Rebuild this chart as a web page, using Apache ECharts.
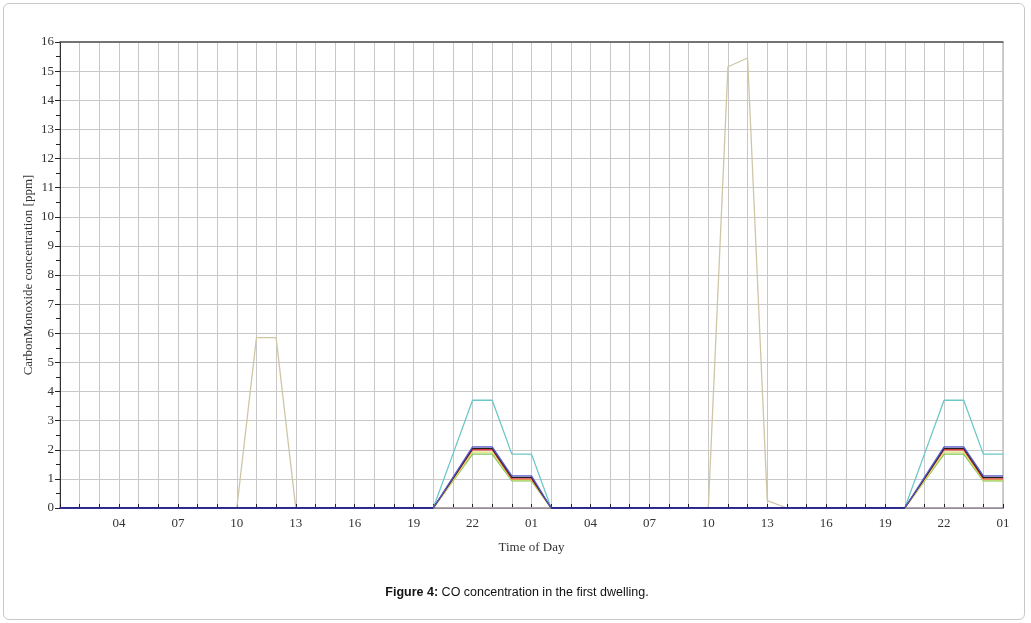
<!DOCTYPE html>
<html><head><meta charset="utf-8">
<script src="https://cdn.jsdelivr.net/npm/echarts@6/dist/echarts.min.js"></script>
<style>
html,body{margin:0;padding:0;background:#fff;}
#frame{position:absolute;left:3px;top:3px;width:1020px;height:615px;border:1px solid #c8c8c8;border-radius:6px;}
#c{position:absolute;left:0;top:0;width:1031px;height:623px;}
</style></head>
<body><div id="frame"></div><div id="c"></div>
<script>
// categories: hourly from 01h of day 1 to 01h of day 3
const categories = ["01","02","03","04","05","06","07","08","09","10","11","12","13","14","15","16","17","18","19","20","21","22","23","00",
"01","02","03","04","05","06","07","08","09","10","11","12","13","14","15","16","17","18","19","20","21","22","23","00","01"];
const seriesTan =    [0,0,0,0,0,0,0,0,0,0,5.85,5.85,0,0,0,0,0,0,0,0,0,0,0,0, 0,0,0,0,0,0,0,0,0,0,15.15,15.45,0.25,0,0,0,0,0,0,0,0,0,0,0,0];
const seriesCyan =   [0,0,0,0,0,0,0,0,0,0,0,0,0,0,0,0,0,0,0,0,1.85,3.7,3.7,1.85, 1.85,0,0,0,0,0,0,0,0,0,0,0,0,0,0,0,0,0,0,0,1.85,3.7,3.7,1.85,1.85];
const seriesPurple = [0,0,0,0,0,0,0,0,0,0,0,0,0,0,0,0,0,0,0,0,1.05,2.1,2.1,1.1, 1.1,0,0,0,0,0,0,0,0,0,0,0,0,0,0,0,0,0,0,0,1.05,2.1,2.1,1.1,1.1];
const seriesBlack =  [0,0,0,0,0,0,0,0,0,0,0,0,0,0,0,0,0,0,0,0,1.02,2.05,2.05,1.05, 1.05,0,0,0,0,0,0,0,0,0,0,0,0,0,0,0,0,0,0,0,1.02,2.05,2.05,1.05,1.05];
const seriesRed =    [0,0,0,0,0,0,0,0,0,0,0,0,0,0,0,0,0,0,0,0,1.0,2.0,2.0,1.0, 1.0,0,0,0,0,0,0,0,0,0,0,0,0,0,0,0,0,0,0,0,1.0,2.0,2.0,1.0,1.0];
const seriesYellow = [0,0,0,0,0,0,0,0,0,0,0,0,0,0,0,0,0,0,0,0,0.95,1.92,1.92,0.97, 0.97,0,0,0,0,0,0,0,0,0,0,0,0,0,0,0,0,0,0,0,0.95,1.92,1.92,0.97,0.97];
const seriesGreen =  [0,0,0,0,0,0,0,0,0,0,0,0,0,0,0,0,0,0,0,0,0.92,1.85,1.85,0.93, 0.93,0,0,0,0,0,0,0,0,0,0,0,0,0,0,0,0,0,0,0,0.92,1.85,1.85,0.93,0.93];
const seriesNavy =   [0,0,0,0,0,0,0,0,0,0,0,0,0,0,0,0,0,0,0,0,null,null,null,null, null,0,0,0,0,0,0,0,0,0,0,0,0,0,0,0,0,0,0,0,null,null,null,null,null];
const yTicks = [0,1,2,3,4,5,6,7,8,9,10,11,12,13,14,15,16];

const serif = "Liberation Serif";
function line(name, data, color, z, w){
  return {name, type:'line', data, symbol:'none', z, lineStyle:{color, width:w||1.3}, itemStyle:{color}, animation:false, connectNulls:false};
}
const chart = echarts.init(document.getElementById('c'), null, {renderer:'canvas'});
chart.setOption({
  animation:false,
  grid:{left:60, right:28, top:42, bottom:115, show:true, borderColor:'#9a9a9a', borderWidth:1},
  title:{text:'{b|Figure 4:} CO concentration in the first dwelling.', left:512, top:581, textAlign:'center',
    textStyle:{fontFamily:'Liberation Sans', fontSize:12.5, fontWeight:'normal', color:'#111', rich:{b:{fontFamily:'Liberation Sans', fontSize:12.5, fontWeight:'bold', color:'#111'}}}},
  xAxis:[{type:'category', data:categories, boundaryGap:false,
    name:'Time of Day', nameLocation:'middle', nameGap:33,
    nameTextStyle:{fontFamily:serif, fontSize:13, color:'#333'},
    axisLine:{lineStyle:{color:'#1a1a8c', width:1.5}},
    axisTick:{show:true, interval:0, inside:true, length:4, lineStyle:{color:'#222'}},
    axisLabel:{interval:(i)=> i>0 && i%3===0, fontFamily:serif, fontSize:13, color:'#333', margin:9},
    splitLine:{show:true, interval:0, lineStyle:{color:'#c8c8c8', width:1}}
  },{type:'category', data:categories, boundaryGap:false, position:'top',
    axisLine:{lineStyle:{color:'#555', width:1.5}}, axisTick:{show:false}, axisLabel:{show:false}, splitLine:{show:false}}],
  yAxis:{type:'value', min:yTicks[0], max:yTicks[yTicks.length-1], interval:1,
    name:'CarbonMonoxide concentration [ppm]', nameLocation:'middle', nameGap:25, nameMoveOverlap:false,
    nameTextStyle:{fontFamily:serif, fontSize:13, color:'#333'},
    axisLine:{show:true, lineStyle:{color:'#333'}},
    axisTick:{show:true, length:5, lineStyle:{color:'#222'}},
    minorTick:{show:true, splitNumber:2, length:4, lineStyle:{color:'#222'}},
    axisLabel:{fontFamily:serif, fontSize:13, color:'#333', margin:6},
    splitLine:{show:true, lineStyle:{color:'#c8c8c8', width:1}}
  },
  series:[
    line('tan', seriesTan, '#cfc6a6', 2),
    line('cyan', seriesCyan, '#6cc8c8', 3),
    line('green', seriesGreen, '#7cc850', 4),
    line('yellow', seriesYellow, '#e2df70', 5),
    line('red', seriesRed, '#e03a3a', 6),
    line('black', seriesBlack, '#1e1e1e', 7),
    line('purple', seriesPurple, '#5a5ad0', 8),
    line('navy', seriesNavy, '#1a1a8c', 9, 1.6)
  ]
});
</script></body></html>
